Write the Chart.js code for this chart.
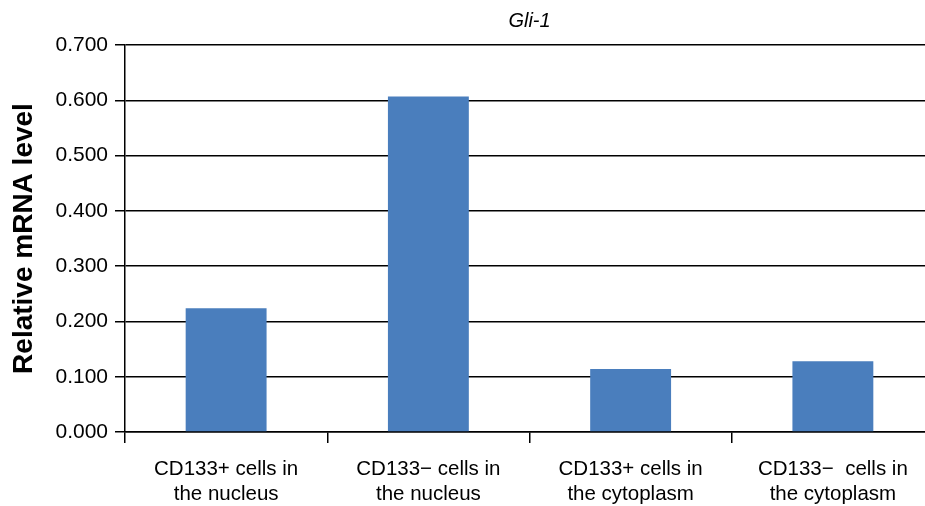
<!DOCTYPE html>
<html>
<head>
<meta charset="utf-8">
<script src="https://cdn.jsdelivr.net/npm/chart.js@4"></script>
<style>
html,body{margin:0;padding:0;background:#fff;overflow:hidden;}
#wrap{width:934px;height:506px;}
</style>
</head>
<body>
<div id="wrap"><canvas id="c" width="934" height="506"></canvas></div>
<script>
const categories = [
  ["CD133+ cells in", "the nucleus"],
  ["CD133\u2212 cells in", "the nucleus"],
  ["CD133+ cells in", "the cytoplasm"],
  ["CD133\u2212  cells in", "the cytoplasm"]
];
const values = [0.224, 0.607, 0.114, 0.128];
const chartTitle = "Gli-1";
const yAxisTitle = "Relative mRNA level";
const yMin = 0, yMax = 0.7, yStep = 0.1;

const FONT = "'Liberation Sans', Arial, sans-serif";

new Chart(document.getElementById('c'), {
  type: 'bar',
  data: {
    labels: categories,
    datasets: [{
      data: values,
      backgroundColor: '#4a7ebd',
      borderWidth: 0,
      barPercentage: 0.4,
      categoryPercentage: 1.0
    }]
  },
  options: {
    responsive: false,
    animation: false,
    devicePixelRatio: 1,
    layout: { padding: { left: 0, right: 0, top: 0, bottom: 0 } },
    plugins: {
      legend: { display: false },
      tooltip: { enabled: false },
      title: {
        display: true,
        fullSize: false,
        text: chartTitle,
        color: '#000',
        font: { family: FONT, size: 20, style: 'italic', weight: 'normal', lineHeight: 1.2 },
        padding: { top: 9, bottom: 12 }
      }
    },
    scales: {
      x: {
        offset: true,
        grid: {
          offset: true,
          drawOnChartArea: false,
          drawTicks: true,
          tickLength: 11,
          color: '#000',
          lineWidth: 1.5
        },
        border: { display: true, color: '#000', width: 1.5 },
        ticks: {
          color: '#000',
          font: { family: FONT, size: 20.5, lineHeight: 1.22 },
          padding: 14,
          maxRotation: 0,
          autoSkip: false
        },
        afterFit: (s) => { s.height = 74; }
      },
      y: {
        min: yMin,
        max: yMax,
        grid: {
          color: '#000',
          lineWidth: 1.5,
          drawTicks: true,
          tickLength: 10
        },
        border: { display: true, color: '#000', width: 1.5 },
        ticks: {
          stepSize: yStep,
          color: '#000',
          font: { family: FONT, size: 21 },
          padding: 7,
          callback: (v) => Number(v).toFixed(3)
        },
        title: {
          display: true,
          text: yAxisTitle,
          color: '#000',
          font: { family: FONT, size: 28, weight: 'bold', lineHeight: 1.2 },
          padding: { top: 7, bottom: 0 }
        },
        afterFit: (s) => { s.width = 125; }
      }
    }
  }
});
</script>
</body>
</html>
